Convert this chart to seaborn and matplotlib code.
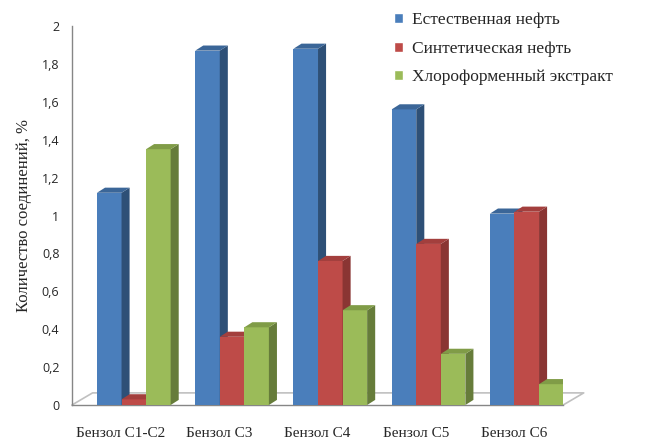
import numpy as np
import pandas as pd
import matplotlib
matplotlib.use("Agg")
import matplotlib.pyplot as plt
import seaborn as sns
from matplotlib.ticker import FuncFormatter

# ---------------------------------------------------------------------------
# Данные
# ---------------------------------------------------------------------------
categories = ["Бензол С1-С2", "Бензол С3", "Бензол С4", "Бензол С5", "Бензол С6"]
series = ["Естественная нефть", "Синтетическая нефть", "Хлороформенный экстракт"]
natural = [1.12, 1.87, 1.88, 1.56, 1.01]
synthetic = [0.03, 0.36, 0.76, 0.85, 1.02]
chloroform = [1.35, 0.41, 0.50, 0.27, 0.11]

front_colors = ["#4a7ebb", "#be4b48", "#9bbb59"]
side_colors = ["#2e5077", "#8a3533", "#667c3a"]
top_colors = ["#3b6698", "#a33f3d", "#809c47"]

df = pd.DataFrame({
    "cat": categories * 3,
    "series": [s for s in series for _ in categories],
    "value": natural + synthetic + chloroform,
})

# ---------------------------------------------------------------------------
# Фигура
# ---------------------------------------------------------------------------
sns.set_theme(style="white")
plt.rcParams["font.family"] = ["Liberation Serif", "DejaVu Serif"]

fig = plt.figure(figsize=(6.48, 4.4), dpi=100)
ax = fig.add_axes([0.111, 0.0795, 0.758, 0.8614])

sns.barplot(data=df, x="cat", y="value", hue="series", palette=front_colors,
            width=0.75, saturation=1, errorbar=None, ax=ax, legend=True)

# псевдо-3D: сдвиг передних граней и боковые/верхние грани
shift = 0.13
dx, dy = 0.082, 0.027
for i, cont in enumerate(ax.containers):
    for p in cont.patches:
        p.set_x(p.get_x() + shift)
        p.set_zorder(3 + i)
        p.set_edgecolor("none")
        x, w, h = p.get_x(), p.get_width(), p.get_height()
        ax.fill([x + w, x + w + dx, x + w + dx, x + w],
                [0, dy, h + dy, h], color=side_colors[i], lw=0, zorder=3 + i)
        ax.fill([x, x + dx, x + w + dx, x + w],
                [h, h + dy, h + dy, h], color=top_colors[i], lw=0, zorder=3 + i)

# "пол" диаграммы
fdx, fdy = 0.21, 0.064
ax.plot([-0.5, -0.5 + fdx, 4.5 + fdx, 4.5], [0, fdy, fdy, 0],
        color="#c0c0c0", lw=1.2, zorder=1, clip_on=False)

ax.set_xlim(-0.5, 4.5)
ax.set_ylim(0, 2)
ax.set_yticks(np.arange(0, 2.01, 0.2))
ax.yaxis.set_major_formatter(FuncFormatter(lambda v, _: f"{v:g}".replace(".", ",")))
ax.set_xticks(range(len(categories)))
ax.set_xticklabels(categories, fontsize=11)
ax.set_xticks(np.arange(-0.5, 4.6, 1), minor=True)
ax.tick_params(axis="x", which="major", length=0, pad=16)
ax.tick_params(axis="x", which="minor", length=5, color="#868686", width=1)
ax.tick_params(axis="y", length=5, color="#868686", width=1, pad=4)
for lab in ax.get_yticklabels():
    lab.set_family(["Open Sans", "DejaVu Sans"])
    lab.set_fontsize(9)

for s in ["top", "right"]:
    ax.spines[s].set_visible(False)
for s in ["left", "bottom"]:
    ax.spines[s].set_color("#868686")
    ax.spines[s].set_linewidth(1)

ax.set_xlabel("")
ax.set_ylabel("Количество соединений, %", fontsize=12, labelpad=7)

handles, labels = ax.get_legend_handles_labels()
ax.legend(handles, labels, loc="upper left", bbox_to_anchor=(0.598, 0.988),
          bbox_transform=fig.transFigure, frameon=False, fontsize=12.5,
          handlelength=0.5, handleheight=0.5, handletextpad=0.5,
          labelspacing=0.72, borderaxespad=0)

fig.savefig("out.png", dpi=100)
